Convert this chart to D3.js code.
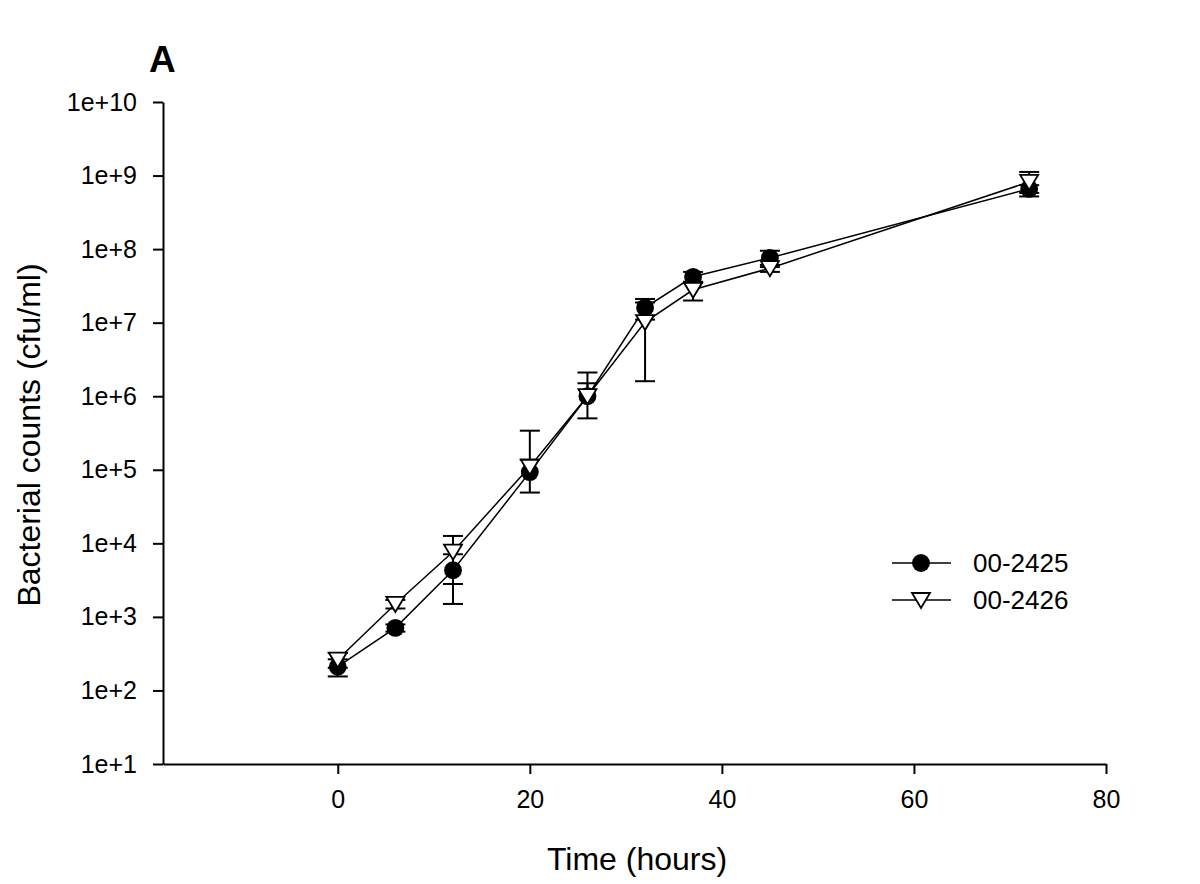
<!DOCTYPE html>
<html>
<head>
<meta charset="utf-8">
<script src="https://cdn.jsdelivr.net/npm/d3@7"></script>
<style>
  body { margin: 0; background: #fff; }
  svg { font-family: "Liberation Sans", Arial, sans-serif; }
</style>
</head>
<body>
<svg id="chart" width="1200" height="884"></svg>
<script>
// sampling times (hours)
const hours = [0, 6, 12, 20, 26, 32, 37, 45, 72];

// strain 00-2425 (filled circles): mean and SD, cfu/ml
const mean2425 = [210, 710, 4300, 93000, 1.0e6, 1.6e7, 4.2e7, 7.6e7, 6.6e8];
const sd2425 = [55, 80, 2800, 44000, 5.0e5, 5.0e6, 7.0e6, 1.9e7, 8.0e7];

// strain 00-2426 (open triangles)
const mean2426 = [263, 1500, 7700, 110000, 1.0e6, 1.02e7, 2.8e7, 5.5e7, 8.2e8];
const sd2426 = [60, 200, 4900, 230000, 1.1e6, 8.6e6, 8.0e6, 6.0e6, 3.0e8];

const xTicks = [0, 20, 40, 60, 80];
const yTicks = [1e1, 1e2, 1e3, 1e4, 1e5, 1e6, 1e7, 1e8, 1e9, 1e10];

const series = [
  { name: '00-2425', mean: mean2425, sd: sd2425, symbol: 'circle' },
  { name: '00-2426', mean: mean2426, sd: sd2426, symbol: 'triangle' }
];

const svg = d3.select('#chart');

const x = d3.scaleLinear().domain([-18.2, 80]).range([163, 1106]);
const y = d3.scaleLog().domain([1e1, 1e10]).range([764, 102]);

// axes
const xAxis = svg.append('g')
  .attr('transform', 'translate(0,764)')
  .call(d3.axisBottom(x).tickValues(xTicks).tickSize(10).tickSizeOuter(0).tickPadding(16));

const yAxis = svg.append('g')
  .attr('transform', 'translate(163,0)')
  .call(d3.axisLeft(y).tickValues(yTicks).tickSize(10).tickSizeOuter(0).tickPadding(16)
    .tickFormat(d => '1e+' + Math.round(Math.log10(d))));

[xAxis, yAxis].forEach(a => {
  a.selectAll('path, line').attr('stroke', '#000').attr('stroke-width', 2);
  a.selectAll('text').attr('fill', '#000').style('font-size', '25px');
});

// error bars
const capHalf = 10;
const errGroup = svg.append('g');
series.forEach(s => {
  s.mean.forEach((m, i) => {
    const cx = x(hours[i]);
    const top = m + s.sd[i];
    const bot = m - s.sd[i];
    errGroup.append('line')
      .attr('x1', cx).attr('x2', cx)
      .attr('y1', y(top)).attr('y2', bot > 0 ? y(bot) : y(m))
      .attr('stroke', '#000').attr('stroke-width', 2);
    errGroup.append('line')
      .attr('x1', cx - capHalf).attr('x2', cx + capHalf)
      .attr('y1', y(top)).attr('y2', y(top))
      .attr('stroke', '#000').attr('stroke-width', 2);
    if (bot > 0) {
      errGroup.append('line')
        .attr('x1', cx - capHalf).attr('x2', cx + capHalf)
        .attr('y1', y(bot)).attr('y2', y(bot))
        .attr('stroke', '#000').attr('stroke-width', 2);
    }
  });
});

// lines
const line = d3.line().x(d => x(d[0])).y(d => y(d[1]));
series.forEach(s => {
  svg.append('path')
    .datum(hours.map((h, i) => [h, s.mean[i]]))
    .attr('d', line)
    .attr('fill', 'none')
    .attr('stroke', '#000')
    .attr('stroke-width', 1.5);
});

// markers
const circleSym = d3.symbol().type(d3.symbolCircle).size(250);
const triPath = 'M-9,-7L9,-7L0,8Z';

function drawMarker(g, sym, cx, cy) {
  if (sym === 'circle') {
    g.append('path').attr('d', circleSym())
      .attr('transform', `translate(${cx},${cy})`)
      .attr('fill', '#000');
  } else {
    g.append('path').attr('d', triPath)
      .attr('transform', `translate(${cx},${cy})`)
      .attr('fill', '#fff').attr('stroke', '#000').attr('stroke-width', 1.8);
  }
}

const markGroup = svg.append('g');
series.forEach(s => {
  s.mean.forEach((m, i) => drawMarker(markGroup, s.symbol, x(hours[i]), y(m)));
});

// legend
const legend = svg.append('g');
series.forEach((s, i) => {
  const ly = 563 + i * 37;
  legend.append('line')
    .attr('x1', 892).attr('x2', 951).attr('y1', ly).attr('y2', ly)
    .attr('stroke', '#000').attr('stroke-width', 1.5);
  drawMarker(legend, s.symbol, 921, ly);
  legend.append('text')
    .attr('x', 973).attr('y', ly).attr('dy', '0.36em')
    .style('font-size', '26px')
    .text(s.name);
});

// titles
svg.append('text')
  .attr('x', 637).attr('y', 870)
  .attr('text-anchor', 'middle')
  .style('font-size', '32px')
  .text('Time (hours)');

svg.append('text')
  .attr('transform', 'translate(40,435) rotate(-90)')
  .attr('text-anchor', 'middle')
  .style('font-size', '32px')
  .text('Bacterial counts (cfu/ml)');

svg.append('text')
  .attr('x', 149).attr('y', 72)
  .style('font-size', '37px')
  .style('font-weight', 'bold')
  .text('A');
</script>
</body>
</html>
